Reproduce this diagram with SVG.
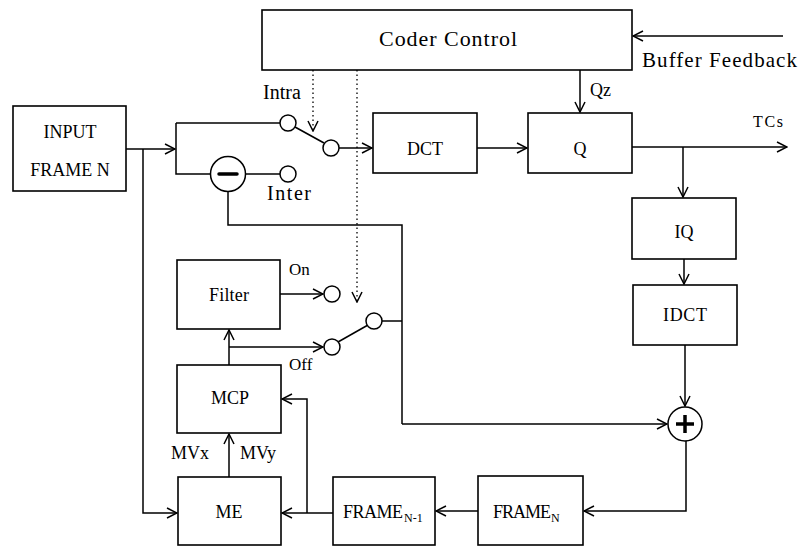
<svg xmlns="http://www.w3.org/2000/svg" width="803" height="547" viewBox="0 0 803 547">
<defs>
<marker id="ar" viewBox="0 0 12 12" refX="11" refY="6" markerWidth="12" markerHeight="12" markerUnits="userSpaceOnUse" orient="auto">
<path d="M1,1 L11,6 L1,11" fill="none" stroke="#000" stroke-width="1.5"/>
</marker>
<style>
.b{fill:#fff;stroke:#000;stroke-width:1.6}
.l{fill:none;stroke:#000;stroke-width:1.5}
.d{fill:none;stroke:#000;stroke-width:1.3;stroke-dasharray:1.5 3}
.a{marker-end:url(#ar)}
.c{fill:#fff;stroke:#000;stroke-width:1.5}
text{font-family:"Liberation Serif","Times New Roman",serif;fill:#000}
.m{text-anchor:middle;font-size:18px}
.s{font-size:20px}
.k{font-size:17px}
</style>
</defs>
<rect width="803" height="547" fill="#fff"/>
<g id="connectors">
<path class="l a" d="M783,36 H633"/>
<path class="l a" d="M580,70 V112"/>
<path class="l a" d="M632,147 H787"/>
<path class="l a" d="M683,147 V197"/>
<path class="l a" d="M684,259 V284"/>
<path class="l a" d="M685,345 V406"/>
<path class="l a" d="M477,148 H527"/>
<path class="l a" d="M339,148 H372"/>
<path class="l a" d="M126,149 H175"/>
<path class="l" d="M176,123 V174 H210"/>
<path class="l" d="M176,123 H280"/>
<path class="l" d="M246,174 H280"/>
<path class="l" d="M295,127 L324,143"/>
<path class="l" d="M228,192 V225 H402 V424"/>
<path class="l a" d="M402,424 H667"/>
<path class="l" d="M382,321 H402"/>
<path class="l" d="M338,342 L368,325"/>
<path class="l a" d="M280,294 H323"/>
<path class="l a" d="M229,365 V330"/>
<path class="l a" d="M229,347 H323"/>
<path class="l a" d="M229,477 V434"/>
<path class="l a" d="M143,149 V513 H177"/>
<path class="l a" d="M333,513 H282"/>
<path class="l a" d="M307,513 V399 H282"/>
<path class="l a" d="M478,511 H436"/>
<path class="l a" d="M686,441 V511 H584"/>
<path class="d a" d="M313,70 V131"/>
<path class="d a" d="M357,70 V302"/>
</g>
<g id="coder-control">
<rect class="b" x="262" y="10" width="370" height="60"/>
<text x="379" y="46" font-size="22" textLength="138" lengthAdjust="spacing">Coder Control</text>
</g>
<text x="642" y="67" font-size="21" textLength="155" lengthAdjust="spacing">Buffer Feedback</text>
<text x="590" y="96" font-size="18">Qz</text>
<text x="753" y="127" font-size="16" textLength="30" lengthAdjust="spacing">TCs</text>
<g id="input">
<rect class="b" x="13" y="106" width="113" height="85"/>
<text class="m" x="70" y="138">INPUT</text>
<text class="m" x="70" y="176">FRAME N</text>
</g>
<g id="dct">
<rect class="b" x="373" y="113" width="104" height="60"/>
<text class="m" x="425" y="155">DCT</text>
</g>
<g id="q">
<rect class="b" x="528" y="113" width="104" height="60"/>
<text class="m" x="580" y="155">Q</text>
</g>
<g id="iq">
<rect class="b" x="632" y="198" width="104" height="61"/>
<text class="m" x="684" y="238">IQ</text>
</g>
<g id="idct">
<rect class="b" x="633" y="285" width="104" height="60"/>
<text x="663" y="321" font-size="18" textLength="44" lengthAdjust="spacing">IDCT</text>
</g>
<g id="switch-intra">
<circle class="c" cx="288" cy="123" r="8"/>
<circle class="c" cx="331" cy="148" r="8"/>
<circle class="c" cx="288" cy="174" r="8"/>
<text class="s" x="263" y="99">Intra</text>
<text class="s" x="267" y="200" textLength="44" lengthAdjust="spacing">Inter</text>
</g>
<g id="minus">
<circle class="c" cx="228" cy="174" r="17.5"/>
<line x1="219" y1="174" x2="237" y2="174" stroke="#000" stroke-width="3.5" stroke-linecap="round"/>
</g>
<g id="plus">
<circle class="c" cx="685" cy="424" r="17"/>
<line x1="676" y1="424" x2="694" y2="424" stroke="#000" stroke-width="3.5"/>
<line x1="685" y1="415" x2="685" y2="433" stroke="#000" stroke-width="3.5"/>
</g>
<g id="filter">
<rect class="b" x="177" y="260" width="103" height="69"/>
<text x="209" y="301" font-size="18" textLength="40" lengthAdjust="spacing">Filter</text>
</g>
<g id="switch-filter">
<circle class="c" cx="332" cy="294" r="8"/>
<circle class="c" cx="332" cy="347" r="8"/>
<circle class="c" cx="374" cy="321" r="8"/>
<text class="k" x="289" y="275">On</text>
<text class="k" x="289" y="370">Off</text>
</g>
<g id="mcp">
<rect class="b" x="177" y="365" width="104" height="68"/>
<text class="m" x="230" y="404">MCP</text>
</g>
<g id="me">
<rect class="b" x="178" y="477" width="103" height="68"/>
<text class="m" x="229" y="518">ME</text>
</g>
<text x="171" y="459" font-size="18">MVx</text>
<text x="240" y="459" font-size="18">MVy</text>
<g id="frame-n-1">
<rect class="b" x="333" y="477" width="102" height="68"/>
<text x="343" y="518" font-size="18" textLength="60" lengthAdjust="spacing">FRAME</text>
<text x="404" y="522" font-size="12">N-1</text>
</g>
<g id="frame-n">
<rect class="b" x="478" y="476" width="105" height="69"/>
<text x="493" y="518" font-size="18" textLength="58" lengthAdjust="spacing">FRAME</text>
<text x="551" y="522" font-size="12">N</text>
</g>
</svg>
